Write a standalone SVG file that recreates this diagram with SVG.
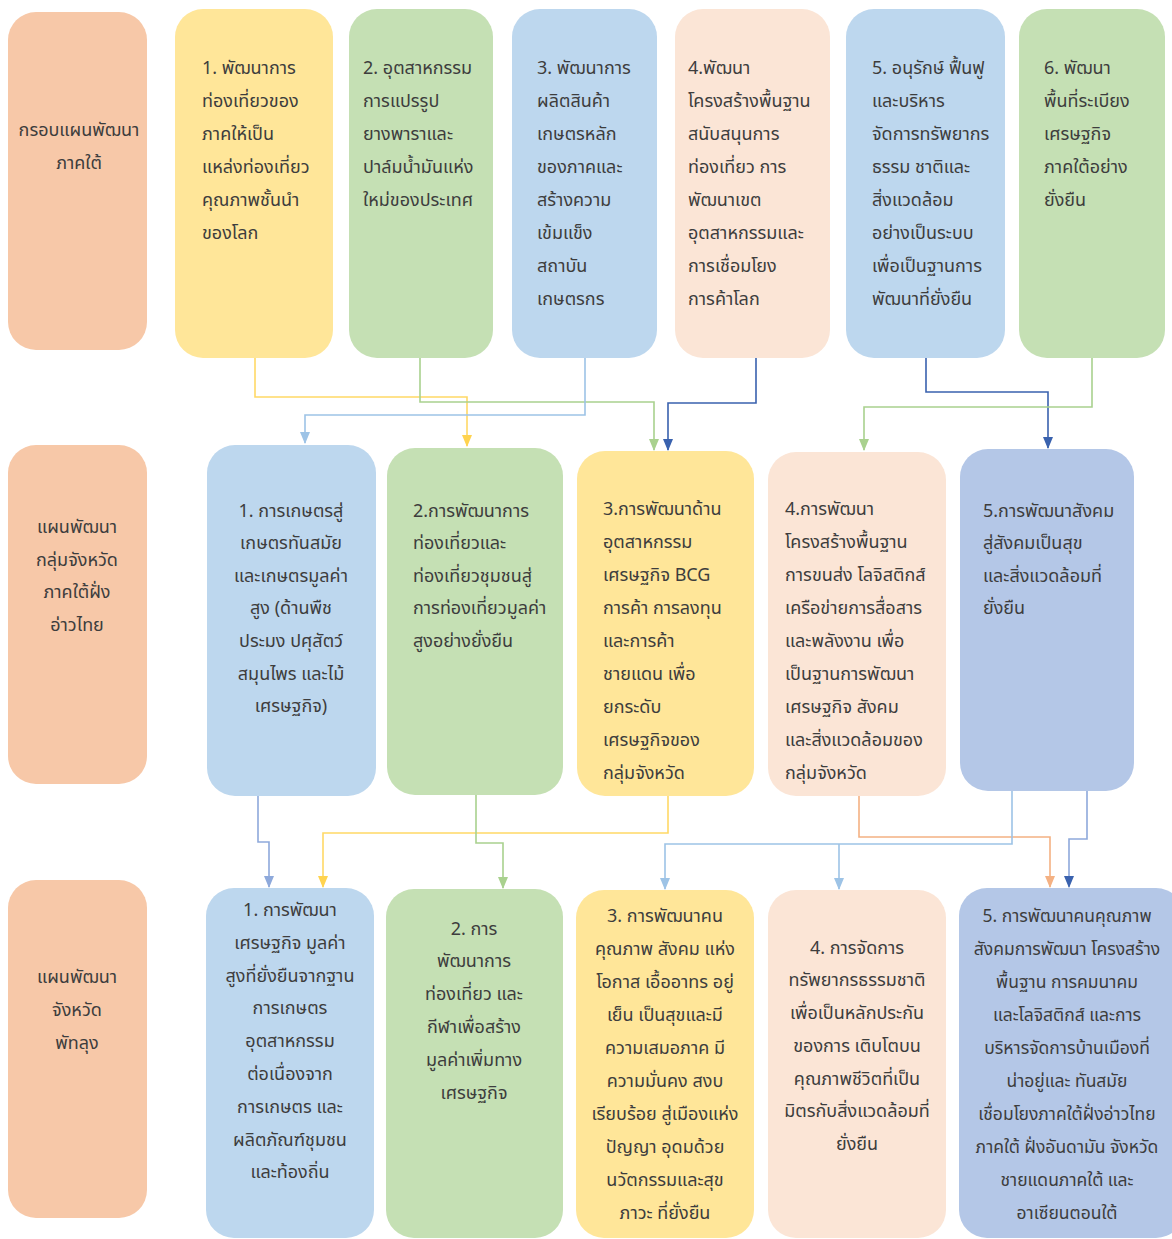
<svg xmlns="http://www.w3.org/2000/svg" width="1172" height="1239" viewBox="0 0 1172 1239">
<style>
text{font-family:"Noto Sans Thai","Noto Sans","DejaVu Sans",sans-serif;font-size:18px;fill:#3d3d3d}
.c{text-anchor:middle}
.s{font-size:17.5px}
.lab{fill:#F7C8A8}
.yel{fill:#FFE699}
.grn{fill:#C5E0B4}
.blu{fill:#BDD7EE}
.pch{fill:#FBE5D6}
.pur{fill:#B4C7E7}
.ln{fill:none;stroke-width:1.6}
</style>
<defs>
<marker id="aY" markerWidth="10" markerHeight="12" refX="5" refY="11" markerUnits="userSpaceOnUse"><path d="M0,0 L10,0 L5,12 Z" fill="#FFD34F"/></marker>
<marker id="aG" markerWidth="10" markerHeight="12" refX="5" refY="11" markerUnits="userSpaceOnUse"><path d="M0,0 L10,0 L5,12 Z" fill="#A9D18E"/></marker>
<marker id="aL" markerWidth="10" markerHeight="12" refX="5" refY="11" markerUnits="userSpaceOnUse"><path d="M0,0 L10,0 L5,12 Z" fill="#9DC3E6"/></marker>
<marker id="aD" markerWidth="10" markerHeight="12" refX="5" refY="11" markerUnits="userSpaceOnUse"><path d="M0,0 L10,0 L5,12 Z" fill="#3A62AE"/></marker>
<marker id="aM" markerWidth="10" markerHeight="12" refX="5" refY="11" markerUnits="userSpaceOnUse"><path d="M0,0 L10,0 L5,12 Z" fill="#8EA9DB"/></marker>
<marker id="aO" markerWidth="10" markerHeight="12" refX="5" refY="11" markerUnits="userSpaceOnUse"><path d="M0,0 L10,0 L5,12 Z" fill="#F4B183"/></marker>
</defs>
<rect width="1172" height="1239" fill="#ffffff"/>

<g id="connectors">
<path class="ln" stroke="#FFD966" d="M255,358 V397 H467 V446" marker-end="url(#aY)"/>
<path class="ln" stroke="#A9D18E" d="M420,358 V402 H654 V450" marker-end="url(#aG)"/>
<path class="ln" stroke="#9DC3E6" d="M585,358 V415 H305 V443" marker-end="url(#aL)"/>
<path class="ln" stroke="#3A62AE" d="M756,358 V403 H668 V450" marker-end="url(#aD)"/>
<path class="ln" stroke="#3A62AE" d="M926,358 V392 H1048 V448" marker-end="url(#aD)"/>
<path class="ln" stroke="#A9D18E" d="M1092,358 V407 H864 V450" marker-end="url(#aG)"/>

<path class="ln" stroke="#8EA9DB" d="M258,796 V842 H269 V887" marker-end="url(#aM)"/>
<path class="ln" stroke="#FFD966" d="M668,796 V833 H323 V887" marker-end="url(#aY)"/>
<path class="ln" stroke="#A9D18E" d="M476,795 V843 H503 V888" marker-end="url(#aG)"/>
<path class="ln" stroke="#F4B183" d="M859,796 V837 H1050 V887" marker-end="url(#aO)"/>
<path class="ln" stroke="#9DC3E6" d="M1012,791 V844 H665 V889" marker-end="url(#aL)"/>
<path class="ln" stroke="#9DC3E6" d="M839,844 V889" marker-end="url(#aL)"/>
<path class="ln" stroke="#8EA9DB" d="M1087,791 V839 H1069 V887" marker-end="url(#aD)"/>
</g>

<!-- Row 1 -->
<g id="row1-label"><rect class="lab" x="8" y="12" width="139" height="338" rx="28"/>
<text class="c" x="79" y="136">กรอบแผนพัฒนา</text><text class="c" x="79" y="169">ภาคใต้</text></g>

<g id="r1n1"><rect class="yel" x="175" y="9" width="158" height="349" rx="28"/>
<text x="202" y="74">1. พัฒนาการ</text><text x="202" y="107">ท่องเที่ยวของ</text><text x="202" y="140">ภาคให้เป็น</text><text x="202" y="173">แหล่งท่องเที่ยว</text><text x="202" y="206">คุณภาพชั้นนำ</text><text x="202" y="239">ของโลก</text></g>

<g id="r1n2"><rect class="grn" x="349" y="9" width="144" height="349" rx="28"/>
<text x="363" y="74">2. อุตสาหกรรม</text><text x="363" y="107">การแปรรูป</text><text x="363" y="140">ยางพาราและ</text><text x="363" y="173">ปาล์มน้ำมันแห่ง</text><text x="363" y="206">ใหม่ของประเทศ</text></g>

<g id="r1n3"><rect class="blu" x="512" y="9" width="145" height="349" rx="28"/>
<text x="537" y="74">3. พัฒนาการ</text><text x="537" y="107">ผลิตสินค้า</text><text x="537" y="140">เกษตรหลัก</text><text x="537" y="173">ของภาคและ</text><text x="537" y="206">สร้างความ</text><text x="537" y="239">เข้มแข็ง</text><text x="537" y="272">สถาบัน</text><text x="537" y="305">เกษตรกร</text></g>

<g id="r1n4"><rect class="pch" x="675" y="9" width="155" height="349" rx="28"/>
<text x="688" y="74">4.พัฒนา</text><text x="688" y="107">โครงสร้างพื้นฐาน</text><text x="688" y="140">สนับสนุนการ</text><text x="688" y="173">ท่องเที่ยว การ</text><text x="688" y="206">พัฒนาเขต</text><text x="688" y="239">อุตสาหกรรมและ</text><text x="688" y="272">การเชื่อมโยง</text><text x="688" y="305">การค้าโลก</text></g>

<g id="r1n5"><rect class="blu" x="846" y="9" width="159" height="349" rx="28"/>
<text x="872" y="74">5. อนุรักษ์ ฟื้นฟู</text><text x="872" y="107">และบริหาร</text><text x="872" y="140">จัดการทรัพยากร</text><text x="872" y="173">ธรรม ชาติและ</text><text x="872" y="206">สิ่งแวดล้อม</text><text x="872" y="239">อย่างเป็นระบบ</text><text x="872" y="272">เพื่อเป็นฐานการ</text><text x="872" y="305">พัฒนาที่ยั่งยืน</text></g>

<g id="r1n6"><rect class="grn" x="1019" y="9" width="146" height="349" rx="28"/>
<text x="1044" y="74">6. พัฒนา</text><text x="1044" y="107">พื้นที่ระเบียง</text><text x="1044" y="140">เศรษฐกิจ</text><text x="1044" y="173">ภาคใต้อย่าง</text><text x="1044" y="206">ยั่งยืน</text></g>

<!-- Row 2 -->
<g id="row2-label"><rect class="lab" x="8" y="445" width="139" height="339" rx="28"/>
<text class="c" x="77" y="533">แผนพัฒนา</text><text class="c" x="77" y="566">กลุ่มจังหวัด</text><text class="c" x="77" y="598">ภาคใต้ฝั่ง</text><text class="c" x="77" y="631">อ่าวไทย</text></g>

<g id="r2n1"><rect class="blu" x="207" y="445" width="169" height="351" rx="28"/>
<text class="c" x="291" y="517">1. การเกษตรสู่</text><text class="c" x="291" y="549">เกษตรทันสมัย</text><text class="c" x="291" y="582">และเกษตรมูลค่า</text><text class="c" x="291" y="614">สูง (ด้านพืช</text><text class="c" x="291" y="647">ประมง ปศุสัตว์</text><text class="c" x="291" y="680">สมุนไพร และไม้</text><text class="c" x="291" y="712">เศรษฐกิจ)</text></g>

<g id="r2n2"><rect class="grn" x="387" y="448" width="176" height="347" rx="28"/>
<text x="413" y="517">2.การพัฒนาการ</text><text x="413" y="549">ท่องเที่ยวและ</text><text x="413" y="582">ท่องเที่ยวชุมชนสู่</text><text x="413" y="614">การท่องเที่ยวมูลค่า</text><text x="413" y="647">สูงอย่างยั่งยืน</text></g>

<g id="r2n3"><rect class="yel" x="577" y="451" width="177" height="345" rx="28"/>
<text x="603" y="515">3.การพัฒนาด้าน</text><text x="603" y="548">อุตสาหกรรม</text><text x="603" y="581">เศรษฐกิจ BCG</text><text x="603" y="614">การค้า การลงทุน</text><text x="603" y="647">และการค้า</text><text x="603" y="680">ชายแดน เพื่อ</text><text x="603" y="713">ยกระดับ</text><text x="603" y="746">เศรษฐกิจของ</text><text x="603" y="779">กลุ่มจังหวัด</text></g>

<g id="r2n4"><rect class="pch" x="768" y="452" width="178" height="344" rx="28"/>
<text x="785" y="515">4.การพัฒนา</text><text x="785" y="548">โครงสร้างพื้นฐาน</text><text x="785" y="581">การขนส่ง โลจิสติกส์</text><text x="785" y="614">เครือข่ายการสื่อสาร</text><text x="785" y="647">และพลังงาน เพื่อ</text><text x="785" y="680">เป็นฐานการพัฒนา</text><text x="785" y="713">เศรษฐกิจ สังคม</text><text x="785" y="746">และสิ่งแวดล้อมของ</text><text x="785" y="779">กลุ่มจังหวัด</text></g>

<g id="r2n5"><rect class="pur" x="960" y="449" width="174" height="342" rx="28"/>
<text x="983" y="517">5.การพัฒนาสังคม</text><text x="983" y="549">สู่สังคมเป็นสุข</text><text x="983" y="582">และสิ่งแวดล้อมที่</text><text x="983" y="614">ยั่งยืน</text></g>

<!-- Row 3 -->
<g id="row3-label"><rect class="lab" x="8" y="880" width="139" height="338" rx="28"/>
<text class="c" x="77" y="983">แผนพัฒนา</text><text class="c" x="77" y="1016">จังหวัด</text><text class="c" x="77" y="1049">พัทลุง</text></g>

<g id="r3n1"><rect class="blu" x="206" y="888" width="168" height="350" rx="28"/>
<text class="c" x="290" y="916">1. การพัฒนา</text><text class="c" x="290" y="949">เศรษฐกิจ มูลค่า</text><text class="c" x="290" y="982">สูงที่ยั่งยืนจากฐาน</text><text class="c" x="290" y="1014">การเกษตร</text><text class="c" x="290" y="1047">อุตสาหกรรม</text><text class="c" x="290" y="1080">ต่อเนื่องจาก</text><text class="c" x="290" y="1113">การเกษตร และ</text><text class="c" x="290" y="1146">ผลิตภัณฑ์ชุมชน</text><text class="c" x="290" y="1178">และท้องถิ่น</text></g>

<g id="r3n2"><rect class="grn" x="386" y="889" width="177" height="349" rx="28"/>
<text class="c" x="474" y="935">2. การ</text><text class="c" x="474" y="967">พัฒนาการ</text><text class="c" x="474" y="1000">ท่องเที่ยว และ</text><text class="c" x="474" y="1033">กีฬาเพื่อสร้าง</text><text class="c" x="474" y="1066">มูลค่าเพิ่มทาง</text><text class="c" x="474" y="1099">เศรษฐกิจ</text></g>

<g id="r3n3"><rect class="yel" x="576" y="890" width="178" height="348" rx="28"/>
<text class="c" x="665" y="922">3. การพัฒนาคน</text><text class="c" x="665" y="955">คุณภาพ สังคม แห่ง</text><text class="c" x="665" y="988">โอกาส เอื้ออาทร อยู่</text><text class="c" x="665" y="1021">เย็น เป็นสุขและมี</text><text class="c" x="665" y="1054">ความเสมอภาค มี</text><text class="c" x="665" y="1087">ความมั่นคง สงบ</text><text class="c" x="665" y="1120">เรียบร้อย สู่เมืองแห่ง</text><text class="c" x="665" y="1153">ปัญญา อุดมด้วย</text><text class="c" x="665" y="1186">นวัตกรรมและสุข</text><text class="c" x="665" y="1219">ภาวะ ที่ยั่งยืน</text></g>

<g id="r3n4"><rect class="pch" x="768" y="890" width="178" height="348" rx="28"/>
<text class="c" x="857" y="954">4. การจัดการ</text><text class="c" x="857" y="986">ทรัพยากรธรรมชาติ</text><text class="c" x="857" y="1019">เพื่อเป็นหลักประกัน</text><text class="c" x="857" y="1052">ของการ เติบโตบน</text><text class="c" x="857" y="1085">คุณภาพชีวิตที่เป็น</text><text class="c" x="857" y="1117">มิตรกับสิ่งแวดล้อมที่</text><text class="c" x="857" y="1150">ยั่งยืน</text></g>

<g id="r3n5"><rect class="pur" x="959" y="888" width="225" height="350" rx="28"/>
<text class="c s" x="1067" y="922">5. การพัฒนาคนคุณภาพ</text><text class="c s" x="1067" y="955">สังคมการพัฒนา โครงสร้าง</text><text class="c s" x="1067" y="988">พื้นฐาน การคมนาคม</text><text class="c s" x="1067" y="1021">และโลจิสติกส์ และการ</text><text class="c s" x="1067" y="1054">บริหารจัดการบ้านเมืองที่</text><text class="c s" x="1067" y="1087">น่าอยู่และ ทันสมัย</text><text class="c s" x="1067" y="1120">เชื่อมโยงภาคใต้ฝั่งอ่าวไทย</text><text class="c s" x="1067" y="1153">ภาคใต้ ฝั่งอันดามัน จังหวัด</text><text class="c s" x="1067" y="1186">ชายแดนภาคใต้ และ</text><text class="c s" x="1067" y="1219">อาเซียนตอนใต้</text></g>
</svg>
